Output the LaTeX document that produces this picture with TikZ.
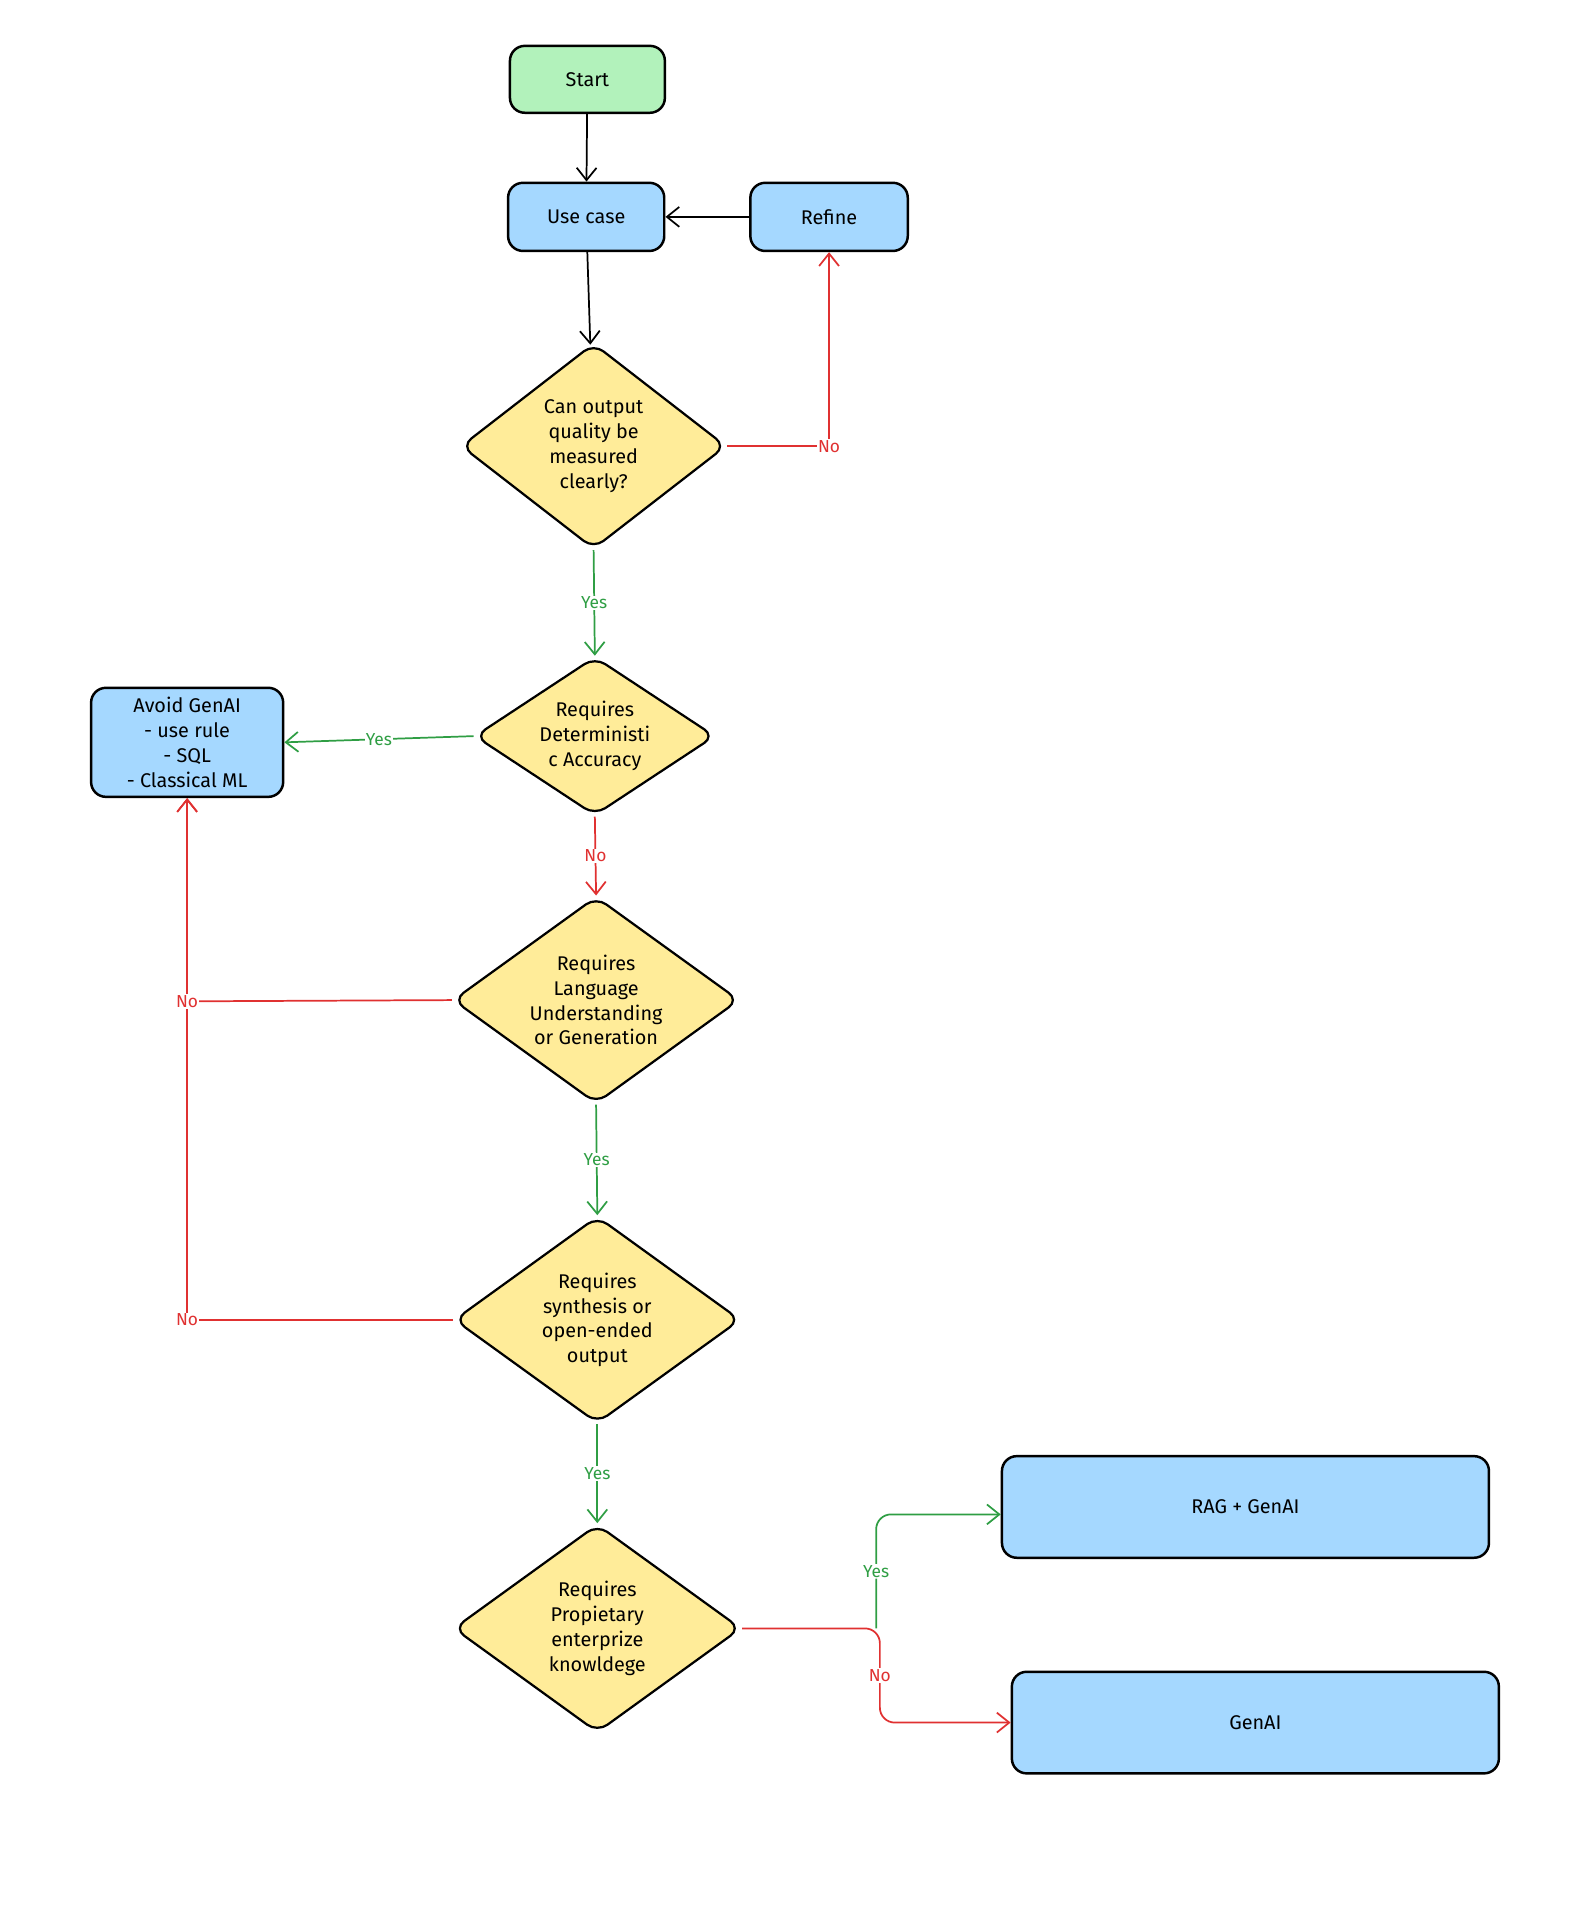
\documentclass[tikz,border=0pt]{standalone}
\usepackage{fontspec}
\setmainfont{Fira Sans}
\usetikzlibrary{shapes.geometric,arrows.meta}
\definecolor{gfill}{HTML}{B2F2BB}
\definecolor{bfill}{HTML}{A5D8FF}
\definecolor{yfill}{HTML}{FFEC99}
\definecolor{gline}{HTML}{2F9E44}
\definecolor{rline}{HTML}{E03131}
\begin{document}
\begin{tikzpicture}[x=0.5pt,y=-0.5pt,
  box/.style={draw=black,line width=1pt,rounded corners=6pt,fill=bfill,font=\fontsize{8}{10}\selectfont,align=center,inner sep=0pt},
  dia/.style={draw=black,line width=0.9pt,diamond,fill=yfill,font=\fontsize{8}{10}\selectfont,align=center,inner sep=0pt,rounded corners=5pt},
  arr/.style={line width=0.7pt,-{Straight Barb[length=5pt,width=8pt]}},
  lab/.style={font=\fontsize{7}{8}\selectfont,fill=white,inner sep=0.5pt}]
\useasboundingbox (0,0) rectangle (1280,1559);
\node[box,fill=gfill,minimum width=62.5pt,minimum height=27pt] (start) at (474,64) {Start};
\node[box,minimum width=63pt,minimum height=27.5pt] (use) at (473,175) {Use case};
\node[box,minimum width=63.5pt,minimum height=27.5pt] (refine) at (669,175) {Refine};
\node[dia,minimum width=107pt,minimum height=83pt,shape aspect=1.29] (d1) at (479,360) {Can output\\quality be\\measured\\clearly?};
\node[dia,minimum width=97pt,minimum height=64pt,shape aspect=1.5] (d2) at (480,594) {Requires\\Deterministi\\c Accuracy};
\node[box,minimum width=77.5pt,minimum height=44pt] (avoid) at (151,599) {Avoid GenAI\\- use rule\\- SQL\\- Classical ML};
\node[dia,minimum width=115.5pt,minimum height=83.5pt,shape aspect=1.38] (d3) at (481,807) {Requires\\Language\\Understanding\\or Generation};
\node[dia,minimum width=115.5pt,minimum height=83.5pt,shape aspect=1.38] (d4) at (482,1065) {Requires\\synthesis or\\open-ended\\output};
\node[dia,minimum width=116pt,minimum height=84pt,shape aspect=1.38] (d5) at (482,1314) {Requires\\Propietary\\enterprize\\knowldege};
\node[box,minimum width=196.5pt,minimum height=41pt] (rag) at (1005,1216) {RAG + GenAI};
\node[box,minimum width=196.5pt,minimum height=41pt] (gen) at (1013,1390) {GenAI};
\draw[arr] (start) -- (use);
\draw[arr] (refine) -- (use);
\draw[arr] (use) -- (d1);
\coordinate (c1) at (669,360);
\draw[arr,rline] (d1.east) -- (c1) -- (refine.south);
\node[lab,text=rline] at (c1) {No};
\draw[arr,gline] (d1.south) -- node[lab]{Yes} (d2.north);
\draw[arr,gline] (d2.west) -- node[lab]{Yes} (avoid.east);
\draw[arr,rline] (d2.south) -- node[lab]{No} (d3.north);
\coordinate (c3) at (151,808);
\coordinate (c4) at (151,1065);
\draw[arr,rline] (d4.west) -- (c4) -- (avoid.south);
\draw[arr,rline] (d3.west) -- (c3) -- (avoid.south);
\node[lab,text=rline] at (c3) {No};
\node[lab,text=rline] at (c4) {No};
\draw[arr,gline] (d3.south) -- node[lab]{Yes} (d4.north);
\draw[arr,gline] (d4.south) -- node[lab]{Yes} (d5.north);
\coordinate (y1) at (707,1314);
\coordinate (y2) at (707,1222);
\coordinate (n1) at (710,1314);
\coordinate (n2) at (710,1390);
\draw[arr,gline,rounded corners=6pt] (y1) -- node[lab]{Yes} (y2) -- (rag.west |- y2);
\draw[arr,rline,rounded corners=6pt] (d5.east) -- (n1) -- node[lab]{No} (n2) -- (gen.west);
\end{tikzpicture}
\end{document}
